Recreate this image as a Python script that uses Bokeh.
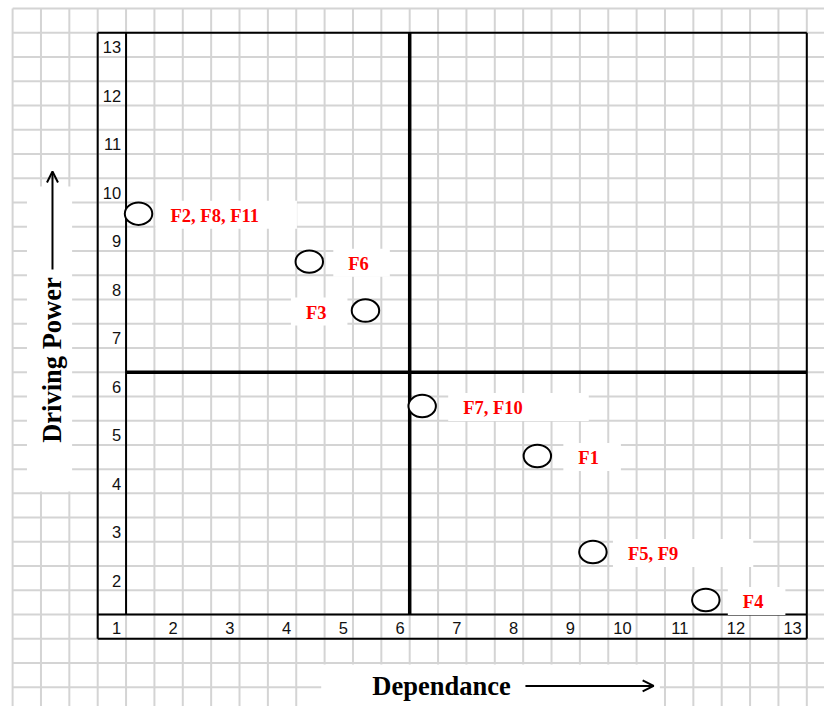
import numpy as np
from bokeh.plotting import figure
from bokeh.models import Range1d, Label, Arrow, OpenHead
from bokeh.core.properties import value
from bokeh.embed import file_html
from bokeh.resources import INLINE

# ---------------- data ----------------
factors = ["F2, F8, F11", "F6", "F3", "F7, F10", "F1", "F5, F9", "F4"]
dependence = [1.22, 4.23, 5.22, 6.22, 8.25, 9.23, 11.22]
driving_power = [9.27, 8.28, 7.27, 5.30, 4.27, 2.29, 1.30]

x_ticks = [1, 2, 3, 4, 5, 6, 7, 8, 9, 10, 11, 12, 13]
x_tick_labels = ["1", "2", "3", "4", "5", "6", "7", "8", "9", "10", "11", "12", "13"]
y_ticks = [2, 3, 4, 5, 6, 7, 8, 9, 10, 11, 12, 13]
y_tick_labels = ["2", "3", "4", "5", "6", "7", "8", "9", "10", "11", "12", "13"]

axis_min = 1
axis_max = 13
midpoint = 6
x_title = "Dependance"
y_title = "Driving Power"

# ---------------- styles ----------------
label_side = ["right", "right", "left", "right", "right", "right", "right"]
label_gap = [32, 39, 39, 41, 41, 35, 37]
label_pad_left = 15
label_pad_right = [38, 21, 21, 66, 22, 75, 22]

X0, X1 = -1.2134, 13.312
Y0, Y1 = -0.896, 13.666

p = figure(width=824, height=706, x_range=Range1d(X0, X1), y_range=Range1d(Y0, Y1),
           output_backend="svg", toolbar_location=None, min_border=0,
           x_axis_type=None, y_axis_type=None)
p.outline_line_color = None
p.background_fill_color = "white"
p.border_fill_color = "white"
p.xgrid.visible = False
p.ygrid.visible = False

# paper grid (half-unit squares)
gx = np.arange(-1.0, 13.01, 0.5)
gy = np.arange(-0.5, 13.51, 0.5)
grid_color = "#d4d4d4"
p.segment(x0=gx, y0=[Y0] * len(gx), x1=gx, y1=[13.5] * len(gx), line_color=grid_color, line_width=2)
p.segment(x0=[-1.0] * len(gy), y0=gy, x1=[X1] * len(gy), y1=gy, line_color=grid_color, line_width=2)

# white boxes behind axis titles
p.quad(left=[-0.747, 4.44], right=[0.049, 10.41], top=[9.83, -0.03], bottom=[3.54, Y0],
       fill_color="white", line_color=None)

# frame
lo = axis_min - 0.5
p.segment(x0=[lo, lo, lo, axis_max], y0=[lo, axis_max, lo, lo],
          x1=[axis_max, axis_max, lo, axis_max], y1=[lo, axis_max, axis_max, axis_max],
          line_color="black", line_width=2)
# inner axes lines
p.segment(x0=[axis_min, lo], y0=[axis_min, axis_min], x1=[axis_min, axis_max], y1=[axis_max, axis_min],
          line_color="black", line_width=2)
# quadrant lines
p.segment(x0=[midpoint, axis_min], y0=[axis_min, midpoint], x1=[midpoint, axis_max], y1=[axis_max, midpoint],
          line_color="black", line_width=3.5)

# tick labels
p.text(x=x_ticks, y=[axis_min] * len(x_ticks), text=x_tick_labels, text_align="right",
       text_baseline="middle", x_offset=-5, y_offset=13, text_font=value("Liberation Sans"),
       text_font_size="16.5px", text_color="#111111")
p.text(x=[axis_min] * len(y_ticks), y=y_ticks, text=y_tick_labels, text_align="right",
       text_baseline="middle", x_offset=-5, y_offset=14.5, text_font=value("Liberation Sans"),
       text_font_size="16.5px", text_color="#111111")

# points
p.ellipse(x=dependence, y=driving_power, width=0.484, height=0.464,
          fill_color="white", line_color="black", line_width=2)

# point labels
for i in range(len(factors)):
    right = label_side[i] == "right"
    off = (label_gap[i] - label_pad_left) if right else -(label_gap[i] - label_pad_right[i])
    p.text(x=[dependence[i]], y=[driving_power[i]], text=[factors[i]],
           text_align="left" if right else "right", text_baseline="middle",
           x_offset=off, y_offset=1,
           text_font=value("Liberation Serif"), text_font_style="bold",
           text_font_size="18.5px", text_color="#ff0000",
           background_fill_color="white",
           padding=dict(left=label_pad_left, right=label_pad_right[i], top=5, bottom=3))

# axis titles and arrows
p.add_layout(Label(x=5.34, y=-0.472, text=x_title, text_font="Liberation Serif",
                   text_font_style="bold", text_font_size="26.5px", text_baseline="middle",
                   text_align="left", text_color="black"))
p.add_layout(Arrow(end=OpenHead(size=11, line_width=2), x_start=8.04, y_start=-0.472,
                   x_end=10.30, y_end=-0.472, line_width=2, line_color="black"))
p.add_layout(Label(x=-0.314, y=6.25, text=y_title, angle=np.pi / 2, text_font="Liberation Serif",
                   text_font_style="bold", text_font_size="26.5px", text_baseline="middle",
                   text_align="center", text_color="black"))
p.add_layout(Arrow(end=OpenHead(size=11, line_width=2), x_start=-0.297, y_start=8.12,
                   x_end=-0.297, y_end=10.14, line_width=2, line_color="black"))

open("out.html", "w").write(file_html(p, INLINE))
